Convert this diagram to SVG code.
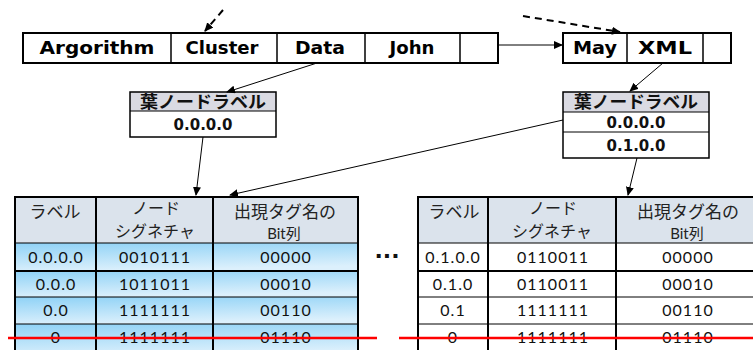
<svg xmlns="http://www.w3.org/2000/svg" width="753" height="350" viewBox="0 0 753 350">
<defs>
<marker id="ah" markerUnits="userSpaceOnUse" markerWidth="9" markerHeight="8" refX="8" refY="4" orient="auto">
<path d="M0,0 L9,4 L0,8 Z" fill="#000"/>
</marker>
<linearGradient id="rowg" x1="0" y1="0" x2="0.25" y2="1">
<stop offset="0" stop-color="#8fd2f6"/>
<stop offset="1" stop-color="#dcf0fc"/>
</linearGradient>
<style>
.box{fill:#fff;stroke:#000;stroke-width:2}
.div{stroke:#000;stroke-width:1.5}
.big{font-family:"DejaVu Sans",sans-serif;font-weight:bold;font-size:17px;text-anchor:middle;fill:#000}
.jpb{font-family:"Noto Sans CJK JP",sans-serif;font-weight:bold;font-size:17px;text-anchor:middle;fill:#111}
.num{font-family:"DejaVu Sans",sans-serif;font-weight:bold;font-size:15px;text-anchor:middle;fill:#111}
.hd{font-family:"Noto Sans CJK JP",sans-serif;font-size:17px;text-anchor:middle;fill:#222}
.hd2{font-family:"Noto Sans CJK JP",sans-serif;font-size:16px;text-anchor:middle;fill:#222}
.hds{font-family:"Lato","Noto Sans CJK JP",sans-serif;font-size:15px;text-anchor:middle;fill:#222}
.cell{font-family:"Lato",sans-serif;font-size:16px;letter-spacing:1px;text-anchor:middle;fill:#111}
.thin{stroke:#000;stroke-width:1}
.thick{stroke:#000;stroke-width:2}
.conn{stroke:#000;stroke-width:1;fill:none;marker-end:url(#ah)}
.dash{stroke:#000;stroke-width:2;stroke-dasharray:7,5;fill:none;marker-end:url(#ah)}
.red{stroke:#ff0000;stroke-width:2.5}
</style>
</defs>

<g id="list-1">
<rect class="box" x="23" y="33" width="475" height="30"/>
<line class="div" x1="171" y1="33" x2="171" y2="63"/>
<line class="div" x1="277" y1="33" x2="277" y2="63"/>
<line class="div" x1="365" y1="33" x2="365" y2="63"/>
<line class="div" x1="460" y1="33" x2="460" y2="63"/>
<text class="big" x="97" y="54" textLength="115" lengthAdjust="spacingAndGlyphs">Argorithm</text>
<text class="big" x="222" y="54" textLength="73" lengthAdjust="spacingAndGlyphs">Cluster</text>
<text class="big" x="320" y="54" textLength="50" lengthAdjust="spacingAndGlyphs">Data</text>
<text class="big" x="412" y="54" textLength="45" lengthAdjust="spacingAndGlyphs">John</text>
</g>

<g id="list-2">
<rect class="box" x="563" y="33" width="168" height="30"/>
<line class="div" x1="627" y1="33" x2="627" y2="63"/>
<line class="div" x1="703" y1="33" x2="703" y2="63"/>
<text class="big" x="595" y="54" textLength="44" lengthAdjust="spacingAndGlyphs">May</text>
<text class="big" x="665" y="54" textLength="54" lengthAdjust="spacingAndGlyphs">XML</text>
</g>

<g id="leaf-box-1">
<rect x="130" y="92" width="146" height="19" fill="#dadae2"/>
<rect x="130" y="92" width="146" height="45" fill="none" stroke="#000" stroke-width="1.5"/>
<line class="thin" x1="130" y1="111" x2="276" y2="111"/>
<text class="jpb" x="203" y="108" textLength="126" lengthAdjust="spacingAndGlyphs">葉ノードラベル</text>
<text class="num" x="203" y="130">0.0.0.0</text>
</g>

<g id="leaf-box-2">
<rect x="563" y="92" width="146" height="20" fill="#dadae2"/>
<rect x="563" y="92" width="146" height="66" fill="none" stroke="#000" stroke-width="1.5"/>
<line class="thin" x1="563" y1="112" x2="709" y2="112"/>
<line class="thin" x1="563" y1="132" x2="709" y2="132"/>
<text class="jpb" x="636" y="108" textLength="124" lengthAdjust="spacingAndGlyphs">葉ノードラベル</text>
<text class="num" x="636" y="128">0.0.0.0</text>
<text class="num" x="636" y="151">0.1.0.0</text>
</g>

<g id="table-1">
<rect x="15" y="197" width="343" height="46" fill="#dbe3ec"/>
<rect x="15" y="243" width="343" height="28" fill="url(#rowg)"/>
<rect x="15" y="271" width="343" height="26" fill="url(#rowg)"/>
<rect x="15" y="297" width="343" height="27" fill="url(#rowg)"/>
<rect x="15" y="324" width="343" height="32" fill="url(#rowg)"/>
<rect x="15" y="197" width="343" height="160" fill="none" stroke="#000" stroke-width="2"/>
<line class="thick" x1="96" y1="197" x2="96" y2="357"/>
<line class="thick" x1="213" y1="197" x2="213" y2="357"/>
<line class="thin" x1="15" y1="243" x2="358" y2="243"/>
<line class="thick" x1="15" y1="271" x2="358" y2="271"/>
<line class="thin" x1="15" y1="297" x2="358" y2="297"/>
<line class="thin" x1="15" y1="324" x2="358" y2="324"/>
<text class="hd" x="55" y="218">ラベル</text>
<text class="hd2" x="156" y="214">ノード</text>
<text class="hd2" x="155" y="237">シグネチャ</text>
<text class="hd" x="285" y="218" font-size="18">出現タグ名の</text>
<text class="hds" x="284" y="239">Bit列</text>
<text class="cell" x="56" y="263">0.0.0.0</text>
<text class="cell" x="155" y="263">0010111</text>
<text class="cell" x="286" y="263">00000</text>
<text class="cell" x="56" y="290">0.0.0</text>
<text class="cell" x="155" y="290">1011011</text>
<text class="cell" x="286" y="290">00010</text>
<text class="cell" x="56" y="316">0.0</text>
<text class="cell" x="155" y="316">1111111</text>
<text class="cell" x="286" y="316">00110</text>
<text class="cell" x="56" y="343">0</text>
<text class="cell" x="155" y="343">1111111</text>
<text class="cell" x="286" y="343">01110</text>
</g>

<g id="table-2">
<rect x="418" y="197" width="345" height="46" fill="#dbe3ec"/>
<rect x="418" y="243" width="345" height="114" fill="#fff"/>
<rect x="418" y="197" width="345" height="160" fill="none" stroke="#000" stroke-width="2"/>
<line class="thick" x1="488" y1="197" x2="488" y2="357"/>
<line class="thick" x1="616" y1="197" x2="616" y2="357"/>
<line class="thin" x1="418" y1="243" x2="763" y2="243"/>
<line class="thick" x1="418" y1="271" x2="763" y2="271"/>
<line class="thin" x1="418" y1="297" x2="763" y2="297"/>
<line class="thin" x1="418" y1="324" x2="763" y2="324"/>
<text class="hd" x="454" y="218">ラベル</text>
<text class="hd2" x="553" y="214">ノード</text>
<text class="hd2" x="552" y="237">シグネチャ</text>
<text class="hd" x="688" y="218" font-size="18">出現タグ名の</text>
<text class="hds" x="687" y="239">Bit列</text>
<text class="cell" x="453" y="263">0.1.0.0</text>
<text class="cell" x="553" y="263">0110011</text>
<text class="cell" x="688" y="263">00000</text>
<text class="cell" x="453" y="290">0.1.0</text>
<text class="cell" x="553" y="290">0110011</text>
<text class="cell" x="688" y="290">00010</text>
<text class="cell" x="453" y="316">0.1</text>
<text class="cell" x="553" y="316">1111111</text>
<text class="cell" x="688" y="316">00110</text>
<text class="cell" x="453" y="343">0</text>
<text class="cell" x="553" y="343">1111111</text>
<text class="cell" x="688" y="343">01110</text>
</g>

<g id="ellipsis">
<text x="387" y="258" font-family="DejaVu Sans, sans-serif" font-weight="bold" font-size="22" text-anchor="middle" fill="#111">...</text>
</g>

<g id="connectors">
<line class="dash" x1="223" y1="10" x2="205" y2="31"/>
<line class="dash" x1="523" y1="16" x2="620" y2="32"/>
<line class="conn" x1="498" y1="45" x2="562" y2="45"/>
<line class="conn" x1="317" y1="63" x2="227" y2="92"/>
<line class="conn" x1="203" y1="137" x2="196" y2="195"/>
<line class="conn" x1="663" y1="63" x2="630" y2="91"/>
<line class="conn" x1="563" y1="120" x2="230" y2="195"/>
<line class="conn" x1="637" y1="158" x2="628" y2="195"/>
</g>

<g id="cut-lines">
<line class="red" x1="8" y1="338" x2="377" y2="338"/>
<line class="red" x1="399" y1="338" x2="753" y2="338"/>
</g>
</svg>
